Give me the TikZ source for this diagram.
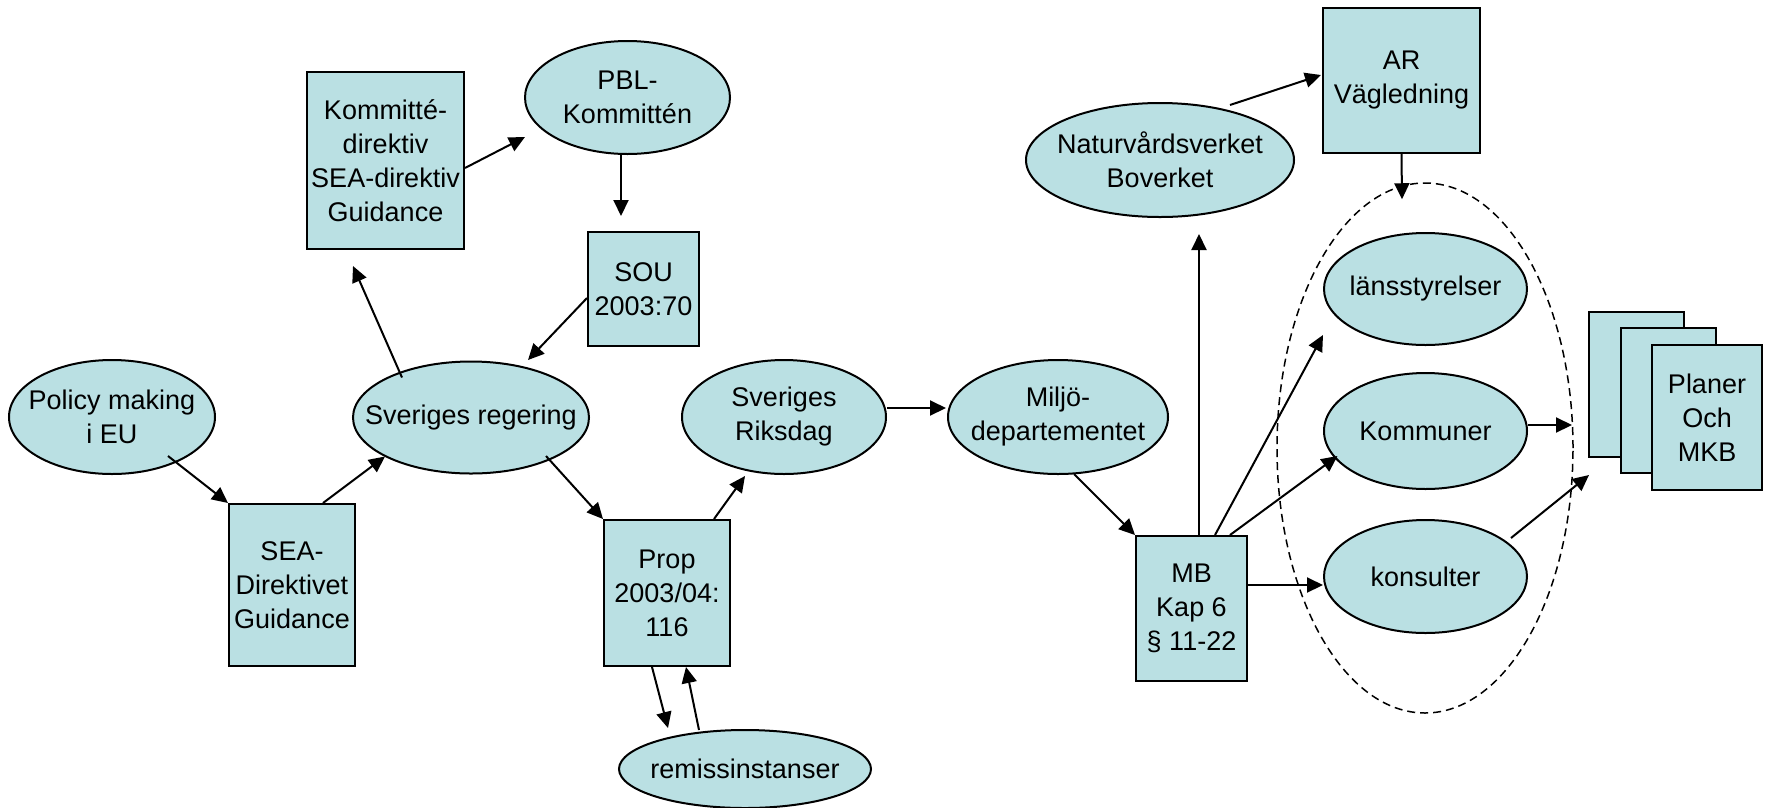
\documentclass[tikz,border=0pt]{standalone}
\usepackage{fontspec}
\setmainfont{Liberation Sans}
\usetikzlibrary{shapes.geometric,arrows.meta,calc}
\definecolor{boxfill}{RGB}{186,224,227}
\begin{document}
\begin{tikzpicture}[x=1pt,y=-1pt,
  font=\fontsize{27}{34}\selectfont,
  shp/.style={draw=black, line width=2pt, fill=boxfill},
  ell/.style={shp, ellipse, inner sep=0pt},
  box/.style={shp, rectangle, inner sep=0pt, align=center},
  lab/.style={align=center, inner sep=0pt},
  arr/.style={line width=2pt, -{Triangle[length=16pt,width=15pt]}},
  grpstyle/.style={draw=black, ellipse, line width=1.5pt, dash pattern=on 8pt off 5pt, inner sep=0pt}
]
\useasboundingbox (0,0) rectangle (1765,807);

% group outline
\node[grpstyle, minimum width=296pt, minimum height=530pt] (grp) at (1425,448) {};

% nodes
\node[ell, minimum width=206pt, minimum height=114pt, label={[lab]center:{Policy making\\i EU}}] (pol) at (112,417) {};
\node[box, minimum width=126pt, minimum height=162pt] (sea) at (292,585) {SEA-\\Direktivet\\Guidance};
\node[ell, minimum width=236pt, minimum height=112pt, label={[lab]center:{Sveriges regering}}] (reg) at (471,417.5) {};
\node[box, minimum width=157pt, minimum height=177pt] (kom) at (385.5,160.5) {Kommitté-\\direktiv\\SEA-direktiv\\Guidance};
\node[ell, minimum width=205pt, minimum height=113pt, label={[lab]center:{PBL-\\Kommittén}}] (pbl) at (627.5,97.5) {};
\node[box, minimum width=111pt, minimum height=114pt] (sou) at (643.5,289) {SOU\\2003:70};
\node[box, minimum width=126pt, minimum height=146pt] (prop) at (667,593) {Prop\\2003/04:\\116};
\node[ell, minimum width=252pt, minimum height=78pt, label={[lab]center:{remissinstanser}}] (rem) at (745,769) {};
\node[ell, minimum width=204pt, minimum height=114pt, label={[lab]center:{Sveriges\\Riksdag}}] (riks) at (784,417) {};
\node[ell, minimum width=220pt, minimum height=114pt, label={[lab]center:{Miljö-\\departementet}}] (milj) at (1058,417) {};
\node[box, minimum width=111pt, minimum height=145pt] (mb) at (1191.5,608.5) {MB\\Kap 6\\§ 11-22};
\node[ell, minimum width=268pt, minimum height=114pt, label={[lab]center:{Naturvårdsverket\\Boverket}}] (nat) at (1160,160) {};
\node[box, minimum width=157pt, minimum height=145pt] (ar) at (1401.5,80.5) {AR\\Vägledning};
\node[ell, minimum width=203pt, minimum height=112pt, label={[lab]center:{länsstyrelser}}] (lan) at (1425.5,289) {};
\node[ell, minimum width=203pt, minimum height=116pt, label={[lab]center:{Kommuner}}] (kmn) at (1425.5,431) {};
\node[ell, minimum width=203pt, minimum height=113pt, label={[lab]center:{konsulter}}] (kon) at (1425.5,576.5) {};
\node[box, minimum width=95pt, minimum height=145pt] (p1) at (1636.5,384.5) {};
\node[box, minimum width=95pt, minimum height=145pt] (p2) at (1668.5,400.5) {};
\node[box, minimum width=110pt, minimum height=145pt] (p3) at (1707,417.5) {Planer\\Och\\MKB};

% connectors
\draw[arr] ($(pol)+(56,39)$) -- (sea.north west);
\draw[arr] ($(sea.north)+(31,0)$) -- ($(reg)+(-86,39)$);
\draw[arr] ($(reg)+(-69,-40)$) -- ($(kom.south)+(-32.5,16)$);
\draw[arr] ($(kom.east)+(0,7.5)$) -- ($(pbl.west)+(1,39.5)$);
\draw[arr] ($(pbl.south)+(-6.5,0)$) -- ($(sou.north)+(-22.5,-15)$);
\draw[arr] ($(sou.west)+(0,9)$) -- ($(reg)+(57,-57.5)$);
\draw[arr] ($(reg)+(75,38.5)$) -- (prop.north west);
\draw[arr] ($(prop.north)+(47,0)$) -- ($(riks.south)+(-39,1)$);
\draw[arr] ($(prop.south)+(-15,0)$) -- ($(rem)+(-77,-41)$);
\draw[arr] ($(rem)+(-46,-39)$) -- ($(prop.south)+(19,0)$);
\draw[arr] ($(riks.east)+(0,-9)$) -- ($(milj.west)+(-1,-9)$);
\draw[arr] ($(milj.south)+(16,-1)$) -- (mb.north west);
\draw[arr] ($(mb.north)+(7.5,0)$) -- ($(nat.south)+(39,16)$);
\draw[arr] ($(nat)+(70,-55)$) -- ($(ar.west)+(-1,-5.5)$);
\draw[arr] (ar.south) -- ($(grp.north)+(-23,17)$);
\draw[arr] ($(mb.north)+(23.5,0)$) -- ($(lan.west)+(0,46)$);
\draw[arr] ($(mb.north)+(38.5,0)$) -- ($(kmn)+(-88,25)$);
\draw[arr] ($(mb.east)+(0,-23.5)$) -- ($(kon.west)+(0,8.5)$);
\draw[arr] ($(kmn.east)+(0,-6)$) -- ($(p1.west)+(-16,40.5)$);
\draw[arr] ($(kon)+(85.5,-38.5)$) -- ($(p1.south west)+(1,17)$);
\end{tikzpicture}
\end{document}
